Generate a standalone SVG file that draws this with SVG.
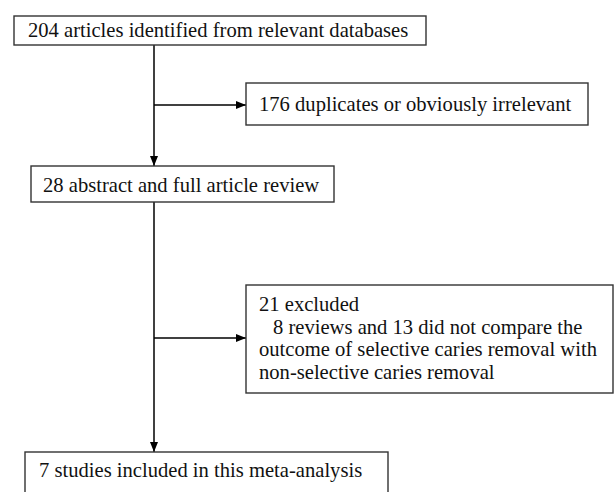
<svg xmlns="http://www.w3.org/2000/svg" width="615" height="492" viewBox="0 0 615 492">
<defs>
<marker id="ah" markerWidth="10" markerHeight="8" refX="10" refY="4" orient="auto" markerUnits="userSpaceOnUse">
<path d="M0,0 L10,4 L0,8 Z" fill="#000"/>
</marker>
<style>
.box{fill:#fff;stroke:#333;stroke-width:1.4}
.t{font-family:"Liberation Serif","Times New Roman",serif;font-size:20.6px;fill:#111}
.c{fill:none;stroke:#000;stroke-width:1.5}
</style>
</defs>
<rect width="615" height="492" fill="#fff"/>
<g id="connectors">
<line class="c" x1="154" y1="45" x2="154" y2="166" marker-end="url(#ah)"/>
<line class="c" x1="154" y1="105" x2="246" y2="105" marker-end="url(#ah)"/>
<line class="c" x1="154" y1="202" x2="154" y2="452" marker-end="url(#ah)"/>
<line class="c" x1="154" y1="338" x2="246" y2="338" marker-end="url(#ah)"/>
</g>
<g id="n1">
<rect class="box" x="14" y="16" width="412" height="29"/>
<text class="t" x="28" y="36.5">204 articles identified from relevant databases</text>
</g>
<g id="n2">
<rect class="box" x="246" y="83" width="342" height="42"/>
<text class="t" x="259" y="111">176 duplicates or obviously irrelevant</text>
</g>
<g id="n3">
<rect class="box" x="31" y="166" width="303" height="36"/>
<text class="t" x="43" y="192">28 abstract and full article review</text>
</g>
<g id="n4">
<rect class="box" x="246" y="285" width="367" height="108"/>
<text class="t" x="259" y="311">21 excluded</text>
<text class="t" x="273" y="333.5">8 reviews and 13 did not compare the</text>
<text class="t" x="259" y="356">outcome of selective caries removal with</text>
<text class="t" x="259" y="378.5">non-selective caries removal</text>
</g>
<g id="n5">
<rect class="box" x="25" y="452" width="363" height="50"/>
<text class="t" x="39" y="477">7 studies included in this meta-analysis</text>
</g>
</svg>
